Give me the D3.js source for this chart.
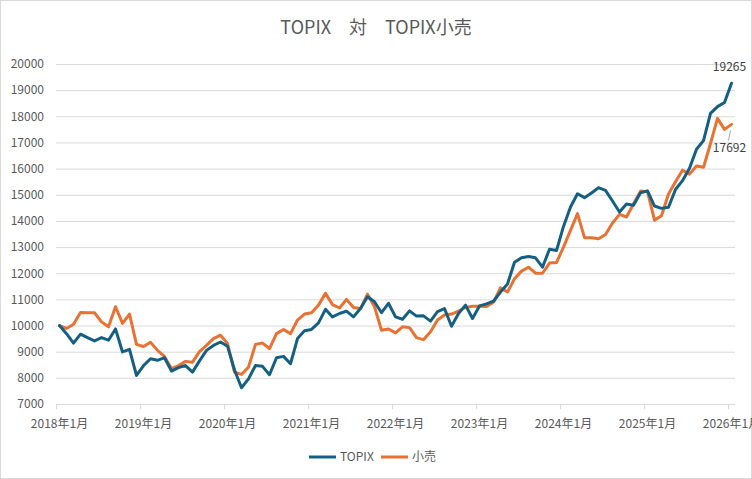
<!DOCTYPE html>
<html><head><meta charset="utf-8">
<script src="https://cdn.jsdelivr.net/npm/d3@7"></script>
<style>
html,body{margin:0;padding:0;background:#fff;}
svg{display:block;font-family:"Noto Sans CJK JP","Noto Sans",sans-serif;}
</style></head>
<body>
<svg id="c" width="752" height="479"></svg>
<script>
const title = "TOPIX\u3000対\u3000TOPIX小売";
const seriesNames = ["TOPIX", "小売"];
const startMonth = new Date(2018, 0, 1);
const yTicks = [7000,8000,9000,10000,11000,12000,13000,14000,15000,16000,17000,18000,19000,20000];
const topix = [10000,9690,9330,9670,9540,9410,9540,9440,9870,8990,9090,8090,
 8470,8730,8670,8770,8260,8390,8470,8220,8650,9050,9240,9370,
 9210,8300,7620,7960,8470,8440,8120,8770,8820,8540,9500,9800,
 9850,10100,10620,10330,10460,10550,10330,10650,11100,10910,10490,10850,
 10330,10240,10560,10360,10370,10170,10530,10650,9970,10460,10780,10270,
 10750,10830,10930,11280,11590,12420,12590,12640,12590,12230,12920,12870,
 13790,14530,15040,14890,15070,15270,15170,14760,14340,14650,14600,15080,
 15150,14570,14480,14520,15200,15540,16010,16740,17070,18110,18370,18530,
 19265];
const retail = [10000,9890,10050,10500,10490,10490,10140,9950,10720,10080,10440,9280,
 9200,9360,9050,8820,8350,8470,8630,8600,9000,9240,9500,9630,
 9310,8220,8130,8410,9280,9330,9120,9690,9850,9690,10210,10440,
 10490,10780,11230,10800,10670,11000,10690,10650,11200,10720,9820,9870,
 9720,9950,9920,9540,9460,9760,10210,10400,10440,10550,10690,10740,
 10740,10730,10890,11440,11280,11790,12080,12230,12000,12000,12390,12410,
 13000,13640,14280,13360,13360,13320,13480,13920,14250,14150,14650,15140,
 15120,14030,14200,15030,15500,15940,15790,16100,16050,16960,17920,17500,
 17692];
const colors = ["#156082", "#E97132"];

const months = d3.range(topix.length).map(i => d3.timeMonth.offset(startMonth, i));
const cats = months.map(d => `${d.getFullYear()}年${d.getMonth()+1}月`);

const svg = d3.select("#c");
const W = 752, H = 479;
const L = 56, R = 735, T = 64, B = 404;

svg.append("rect").attr("x",0.5).attr("y",0.5).attr("width",W-1).attr("height",H-1)
  .attr("fill","#fff").attr("stroke","#d9d9d9");

svg.append("text").attr("x",376).attr("y",34).attr("text-anchor","middle")
  .attr("font-size",18).attr("fill","#595959").text(title);

const x = d3.scaleBand().domain(cats).range([L, R]).padding(0);
const y = d3.scaleLinear().domain([7000, 20000]).range([B, T]);
const cx = c => x(c) + x.bandwidth()/2;

// gridlines
const gy = svg.append("g").attr("transform",`translate(${L},0)`)
  .call(d3.axisLeft(y).tickValues(yTicks).tickSize(-(R-L)).tickFormat(""));
gy.select(".domain").remove();
gy.selectAll("line").attr("stroke","#d9d9d9").attr("stroke-width",1);

// y labels
const ly = svg.append("g").attr("transform",`translate(44,0)`)
  .call(d3.axisLeft(y).tickValues(yTicks).tickSize(0).tickPadding(0).tickFormat(d3.format("d")));
ly.select(".domain").remove();
ly.selectAll("text").attr("font-size",12).attr("fill","#595959").attr("font-family",'"Noto Sans CJK JP",sans-serif');

// x axis line
svg.append("line").attr("x1",L).attr("x2",R).attr("y1",B+0.5).attr("y2",B+0.5)
  .attr("stroke","#d9d9d9");
const tickCats = cats.filter((c,i) => i % 12 === 0);
svg.append("g").selectAll("line").data(tickCats).join("line")
  .attr("x1",c => Math.round(x(c))+0.5).attr("x2",c => Math.round(x(c))+0.5)
  .attr("y1",B).attr("y2",B+5).attr("stroke","#d9d9d9");
const lx = svg.append("g").attr("transform",`translate(0,${B})`)
  .call(d3.axisBottom(x).tickValues(tickCats).tickSize(0).tickPadding(15));
lx.select(".domain").remove();
lx.selectAll("text").attr("font-size",12).attr("fill","#595959").attr("font-family",'"Noto Sans CJK JP",sans-serif');

// lines
const line = d3.line().x((d,i) => cx(cats[i])).y(d => y(d));
[retail, topix].forEach((s, k) => {
  const ci = s === topix ? 0 : 1;
  svg.append("path").datum(s).attr("d", line).attr("fill","none")
    .attr("stroke", colors[ci]).attr("stroke-width",3)
    .attr("stroke-linejoin","round").attr("stroke-linecap","round");
});

// data labels
const last = cats.length - 1;
const lxp = cx(cats[last]);
svg.append("text").attr("x", lxp - 2).attr("y", y(topix[last]) - 12)
  .attr("text-anchor","middle").attr("font-size",12).attr("fill","#404040")
  .text(d3.format("d")(topix[last]));
svg.append("line").attr("x1", lxp - 1).attr("y1", y(retail[last]) + 6)
  .attr("x2", lxp - 3).attr("y2", y(retail[last]) + 16)
  .attr("stroke","#a6a6a6").attr("stroke-width",1);
svg.append("text").attr("x", lxp - 2).attr("y", y(retail[last]) + 28)
  .attr("text-anchor","middle").attr("font-size",12).attr("fill","#404040")
  .text(d3.format("d")(retail[last]));

// legend
const lg = svg.append("g");
const items = [{n:seriesNames[0], c:colors[0], x:309}, {n:seriesNames[1], c:colors[1], x:381}];
items.forEach(it => {
  lg.append("line").attr("x1",it.x).attr("x2",it.x+27).attr("y1",457).attr("y2",457)
    .attr("stroke",it.c).attr("stroke-width",3);
  lg.append("text").attr("x",it.x+31).attr("y",461).attr("font-size",12)
    .attr("fill","#595959").text(it.n);
});
</script>
</body></html>
